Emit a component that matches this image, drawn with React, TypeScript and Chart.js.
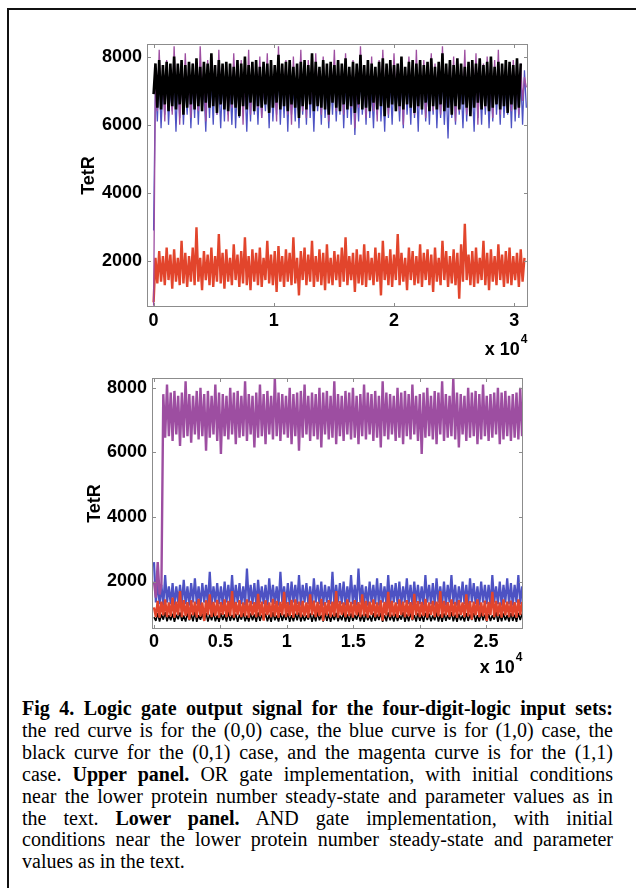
import React, { useEffect, useRef } from 'react';
import { Chart, registerables } from 'chart.js';

Chart.register(...registerables);

// ---------- data ----------
const UPPER_DT = 155; // time step between samples (upper panel)
const LOWER_DT = 140; // time step between samples (lower panel)

const UPPER_X_TICKS = [0, 10000, 20000, 30000];
const UPPER_X_LABELS = ['0', '1', '2', '3'];
const LOWER_X_TICKS = [0, 5000, 10000, 15000, 20000, 25000];
const LOWER_X_LABELS = ['0', '0.5', '1', '1.5', '2', '2.5'];
const Y_TICKS = [2000, 4000, 6000, 8000];
const Y_LABELS = ['2000', '4000', '6000', '8000'];
const Y_TITLE = 'TetR';
const X_MULT_BASE = 'x 10';
const X_MULT_EXP = '4';

const BLACK_UPPER = [
  6900, 7800, 6500, 7900, 6450, 7750, 6600, 7850, 6400, 7800,
  6550, 8000, 6450, 7800, 6600, 7900, 6300, 7750, 6500, 7850,
  6600, 7800, 6450, 7950, 6550, 7700, 6400, 7850, 6650, 7800,
  6500, 8100, 6550, 7750, 6350, 7900, 6600, 7800, 6450, 7850,
  6400, 7800, 6600, 7700, 6500, 7900, 6250, 7800, 6550, 8000,
  6450, 7750, 6650, 7850, 6400, 7900, 6550, 7700, 6500, 7850,
  6600, 7800, 6350, 7900, 6500, 7750, 6650, 8050, 6450, 7800,
  6550, 7850, 6400, 7900, 6600, 7700, 6500, 7800, 6200, 7850,
  6550, 7900, 6450, 7750, 6600, 8100, 6400, 7850, 6550, 7700,
  6500, 7900, 6450, 7800, 6300, 7850, 6650, 7750, 6500, 7900,
  6400, 7800, 6600, 7950, 6450, 7700, 6550, 7850, 6350, 7800,
  6600, 8050, 6450, 7750, 6500, 7900, 6400, 7800, 6650, 7700,
  6450, 7850, 6550, 7950, 6250, 7800, 6500, 7900, 6600, 7750,
  6400, 7800, 6550, 8000, 6450, 7700, 6600, 7850, 6500, 7900,
  6350, 7800, 6550, 7900, 6450, 7750, 6650, 7850, 6400, 7950,
  6550, 7700, 6450, 7850, 6600, 8100, 6400, 7800, 6500, 7900,
  6300, 7750, 6550, 7950, 6450, 7800, 6600, 7700, 6500, 7850,
  6250, 7900, 6500, 7800, 6650, 7950, 6450, 7750, 6550, 7850,
  6400, 8000, 6500, 7700, 6600, 7850, 6450, 7800, 6550, 7900,
  6350, 7850, 6600, 7750, 6450, 7950, 6500, 7800,
];

const MAGENTA_UPPER = [
  700, 7600, 6400, 8200, 6600, 7400, 6100, 7900, 6700, 7300,
  6300, 8300, 6800, 7700, 6000, 7500, 6500, 8100, 6700, 7400,
  6200, 7800, 6600, 7300, 6400, 8300, 6900, 7600, 6100, 7900,
  6500, 8000, 6700, 7400, 6300, 8200, 6600, 7500, 6800, 7800,
  6100, 7700, 6500, 8100, 6700, 7300, 6400, 7900, 6000, 7600,
  6600, 8200, 6300, 7500, 6800, 7800, 6500, 8000, 6200, 7400,
  6700, 8100, 6400, 7700, 6600, 7300, 6100, 8300, 6500, 7600,
  6800, 7900, 6300, 7500, 6000, 8000, 6600, 7400, 6700, 8200,
  6400, 7700, 6200, 7900, 6600, 7300, 6500, 8100, 6800, 7600,
  6300, 8000, 6700, 7500, 6100, 7800, 6900, 8200, 6400, 7400,
  6600, 7700, 6300, 8100, 6700, 7500, 6500, 7900, 5900, 7600,
  6500, 8300, 6800, 7400, 6200, 7800, 6600, 8000, 6400, 7300,
  6100, 7900, 6700, 8200, 6500, 7500, 6300, 7700, 6600, 8100,
  6800, 7400, 6400, 7800, 6000, 7600, 6600, 8000, 6700, 7300,
  6300, 8200, 6500, 7500, 6600, 7900, 6200, 7700, 6800, 8100,
  6400, 7800, 6700, 7400, 6300, 8300, 6500, 7600, 6900, 7900,
  6600, 8000, 6100, 7700, 6400, 7500, 6700, 8200, 6300, 7400,
  6500, 7900, 6600, 8100, 6000, 7600, 6800, 7800, 6500, 8000,
  6400, 7500, 6200, 7900, 6700, 8200, 6300, 7400, 6600, 7800,
  6500, 7700, 6400, 7900, 6600, 7500, 6300, 7800, 6700, 7400,
  7100,
];

const BLUE_UPPER = [
  2900, 7300, 6100, 7500, 5900, 7200, 6300, 7600, 6000, 7100,
  6400, 7400, 5800, 7300, 6200, 7500, 6000, 7200, 6300, 7600,
  5900, 7300, 6200, 7500, 6000, 7400, 6400, 7100, 5800, 7500,
  6200, 7300, 6000, 7600, 6300, 7200, 5900, 7400, 6100, 7500,
  6300, 7100, 6000, 7600, 5900, 7300, 6200, 7500, 6400, 7200,
  5800, 7400, 6100, 7600, 6300, 7300, 6000, 7500, 6200, 7100,
  6400, 7400, 5900, 7600, 6100, 7200, 6300, 7500, 6000, 7300,
  6200, 7600, 5800, 7400, 6300, 7100, 6100, 7500, 5900, 7300,
  6300, 7400, 6000, 7600, 6200, 7200, 5800, 7500, 6400, 7300,
  6000, 7600, 6200, 7100, 5900, 7400, 6300, 7500, 6100, 7200,
  6300, 7600, 5900, 7300, 6200, 7500, 6000, 7400, 5700, 7200,
  6100, 7500, 6300, 7300, 6000, 7600, 6200, 7100, 5900, 7400,
  6300, 7500, 6100, 7200, 5800, 7600, 6200, 7300, 6000, 7500,
  6400, 7100, 6100, 7400, 5900, 7600, 6300, 7200, 6000, 7500,
  6200, 7300, 5800, 7600, 6300, 7400, 6100, 7200, 6000, 7500,
  6300, 7600, 5900, 7300, 6200, 7400, 6000, 7100, 5600, 7500,
  6200, 7300, 6000, 7600, 6300, 7200, 5900, 7400, 6100, 7500,
  6300, 7100, 5800, 7600, 6200, 7300, 6000, 7500, 6300, 7400,
  5900, 7200, 6100, 7600, 6300, 7300, 6000, 7500, 6200, 7100,
  6300, 7400, 5900, 7600, 6100, 7300, 6200, 7500, 6000, 7600,
  6500,
];

const RED_UPPER = [
  800, 2100, 1350, 2300, 1400, 2150, 1300, 2400, 1450, 2200,
  1200, 2350, 1400, 2100, 1300, 2600, 1350, 2250, 1250, 2150,
  1400, 2400, 1300, 3000, 1400, 2100, 1150, 2300, 1450, 2200,
  1300, 2400, 1250, 2150, 1400, 2800, 1350, 2250, 1200, 2350,
  1400, 2100, 1300, 2500, 1450, 2200, 1250, 2300, 1350, 2700,
  1300, 2150, 1150, 2350, 1400, 2250, 1300, 2400, 1250, 2100,
  1450, 2600, 1350, 2200, 1300, 2300, 1100, 2450, 1400, 2150,
  1250, 2350, 1400, 2250, 1300, 2700, 1350, 2100, 1000, 2300,
  1450, 2400, 1300, 2200, 1400, 2600, 1250, 2150, 1400, 2350,
  1300, 2250, 1150, 2500, 1350, 2100, 1300, 2300, 1450, 2200,
  1250, 2400, 1400, 2700, 1300, 2150, 1450, 2250, 1100, 2350,
  1350, 2200, 1300, 2500, 1250, 2300, 1450, 2100, 1300, 2400,
  1400, 2250, 1000, 2600, 1450, 2150, 1300, 2350, 1250, 2200,
  1450, 2800, 1300, 2250, 1400, 2100, 1150, 2400, 1450, 2300,
  1300, 2150, 1350, 2500, 1250, 2250, 1450, 2350, 1300, 2200,
  1100, 2400, 1400, 2100, 1300, 2600, 1450, 2300, 1250, 2150,
  1350, 2350, 1300, 2250, 900, 2500, 1400, 3100, 1450, 2200,
  1300, 2300, 1250, 2400, 1350, 2100, 1450, 2600, 1300, 2250,
  1150, 2350, 1400, 2150, 1300, 2500, 1450, 2200, 1250, 2300,
  1350, 2400, 1300, 2150, 1450, 2250, 1250, 2350, 1400, 2100,
];

const MAGENTA_LOWER = [
  2000, 1500, 2600, 1600, 1900, 7800, 6450, 8100, 6500, 7850,
  6350, 7900, 6550, 7750, 6200, 7850, 6450, 8200, 6500, 7800,
  6300, 7750, 6550, 7900, 6400, 8000, 6500, 7800, 6050, 7900,
  6450, 7750, 6550, 8100, 6350, 7850, 5950, 7800, 6500, 7750,
  6400, 8000, 6550, 7850, 6250, 7900, 6450, 7750, 6500, 8200,
  6350, 7800, 6550, 7750, 6150, 7850, 6450, 8100, 6500, 7800,
  6250, 7900, 6550, 7750, 6400, 8300, 6500, 7850, 6350, 7800,
  6550, 7750, 6450, 8000, 6250, 7800, 6500, 7850, 6050, 7900,
  6450, 8100, 6550, 7750, 6350, 7850, 6500, 7800, 6400, 8000,
  6150, 7850, 6550, 7900, 6400, 7750, 6450, 8200, 6250, 7800,
  6500, 7750, 6350, 7900, 6550, 7850, 6400, 8000, 6450, 7750,
  6250, 7800, 6500, 8100, 6400, 7850, 6550, 7800, 6350, 7900,
  6450, 7750, 6150, 8200, 6500, 7850, 6400, 7800, 6550, 7750,
  6350, 8000, 6450, 7850, 6250, 7900, 6500, 7800, 6400, 8100,
  6550, 7750, 6350, 7800, 5950, 7850, 6450, 8000, 6500, 7750,
  6400, 7900, 6250, 7850, 6550, 8200, 6350, 7800, 6450, 7750,
  6500, 8300, 6400, 7850, 6150, 7800, 6550, 7750, 6350, 8000,
  6450, 7850, 6500, 7900, 6250, 7800, 6400, 8100, 6500, 7750,
  6350, 7800, 6450, 7850, 6550, 8000, 6250, 7850, 6400, 7900,
  6500, 7750, 6350, 7800, 6450, 7850, 6400, 8000, 6500,
];

const BLUE_LOWER = [
  2600, 1350, 2000, 1300, 1900, 1250, 2200, 1350, 1850, 1300,
  1950, 1250, 1850, 1350, 1900, 1300, 2050, 1300, 1850, 1250,
  1950, 1350, 2100, 1300, 1850, 1250, 1950, 1350, 1900, 1300,
  2300, 1250, 1850, 1350, 1950, 1300, 1850, 1250, 2000, 1350,
  1900, 1300, 2200, 1250, 1900, 1350, 1950, 1300, 1850, 1250,
  2400, 1350, 1900, 1300, 1950, 1250, 2050, 1350, 1850, 1300,
  1900, 1250, 2100, 1350, 1900, 1300, 1850, 1250, 2300, 1350,
  1850, 1300, 1950, 1250, 2000, 1350, 1900, 1300, 2200, 1250,
  1900, 1350, 1950, 1300, 1850, 1250, 2100, 1350, 1900, 1300,
  2000, 1250, 1900, 1350, 1850, 1300, 2300, 1250, 1900, 1350,
  1950, 1300, 2000, 1250, 1850, 1350, 2200, 1300, 1900, 1250,
  2400, 1350, 1900, 1300, 1850, 1250, 2000, 1350, 1900, 1300,
  2100, 1250, 1950, 1350, 1850, 1300, 2200, 1250, 1900, 1350,
  1950, 1300, 2000, 1250, 1850, 1350, 2100, 1300, 1900, 1250,
  2000, 1350, 1900, 1300, 1850, 1250, 2200, 1350, 1900, 1300,
  1950, 1250, 2100, 1350, 1850, 1300, 2000, 1250, 1900, 1350,
  2200, 1300, 1900, 1250, 1850, 1350, 2000, 1300, 1900, 1250,
  2100, 1350, 1950, 1300, 1850, 1250, 2000, 1350, 1900, 1300,
  1900, 1250, 2200, 1350, 1850, 1300, 2000, 1250, 1900, 1350,
  2100, 1300, 1950, 1250, 1900, 1350, 2200, 1300, 1850,
];

const RED_LOWER = [
  1200, 900, 1400, 880, 1380, 950, 1450, 900, 1350, 920,
  1500, 880, 1380, 960, 1700, 900, 1420, 930, 1360, 820,
  1420, 950, 1380, 890, 1460, 920, 1350, 780, 1420, 960,
  1600, 900, 1370, 930, 1430, 880, 1360, 970, 1450, 900,
  1400, 930, 1700, 880, 1370, 960, 1420, 900, 1350, 920,
  1450, 880, 1400, 950, 1360, 900, 1620, 930, 1380, 790,
  1420, 960, 1350, 900, 1460, 920, 1400, 880, 1370, 950,
  1680, 900, 1360, 930, 1430, 880, 1450, 970, 1380, 900,
  1400, 920, 1350, 880, 1600, 960, 1410, 900, 1370, 930,
  1460, 780, 1360, 950, 1420, 900, 1380, 920, 1700, 880,
  1390, 960, 1350, 900, 1450, 930, 1370, 880, 1420, 950,
  1360, 900, 1600, 930, 1400, 880, 1380, 960, 1450, 900,
  1350, 920, 1420, 790, 1370, 950, 1680, 900, 1400, 930,
  1350, 880, 1450, 960, 1380, 900, 1420, 920, 1360, 820,
  1620, 950, 1390, 900, 1370, 930, 1460, 880, 1350, 960,
  1400, 900, 1380, 920, 1700, 880, 1400, 950, 1360, 900,
  1450, 930, 1370, 880, 1420, 960, 1350, 900, 1600, 920,
  1390, 820, 1380, 950, 1450, 900, 1350, 930, 1410, 780,
  1370, 960, 1680, 900, 1400, 930, 1350, 880, 1450, 950,
  1380, 900, 1410, 920, 1360, 880, 1450, 960, 1370,
];

const BLACK_LOWER = [
  900, 780, 1020, 760, 980, 820, 1050, 770, 960, 800,
  1000, 750, 970, 830, 1040, 780, 950, 760, 1010, 800,
  980, 770, 1050, 750, 960, 820, 1000, 780, 1030, 760,
  970, 800, 1040, 770, 950, 750, 1020, 810, 980, 760,
  1050, 780, 960, 800, 1000, 750, 970, 820, 1030, 770,
  950, 760, 1010, 800, 980, 750, 1040, 780, 960, 820,
  1000, 770, 970, 750, 1050, 800, 950, 760, 1020, 780,
  980, 810, 1030, 750, 960, 770, 1000, 800, 1040, 760,
  970, 780, 950, 820, 1010, 750, 980, 770, 1050, 800,
  960, 760, 1020, 780, 1000, 750, 970, 810, 1030, 770,
  950, 800, 1040, 760, 980, 750, 1010, 780, 960, 820,
  1050, 770, 970, 750, 1000, 800, 950, 760, 1020, 780,
  980, 810, 1030, 750, 960, 770, 1040, 800, 970, 760,
  1000, 780, 950, 820, 1050, 750, 980, 770, 1010, 800,
  960, 760, 1020, 780, 970, 750, 1030, 810, 1000, 770,
  950, 800, 1040, 760, 980, 750, 1010, 780, 960, 820,
  1050, 770, 970, 750, 1000, 800, 950, 760, 1020, 780,
  980, 810, 1030, 750, 960, 770, 1040, 800, 970, 760,
  1000, 780, 950, 820, 1050, 750, 980, 770, 1010, 800,
  960, 760, 1020, 780, 970, 750, 1030, 810, 1000,
];

const CAPTION_LINES: { t: string; b?: boolean }[][] = [
  [{ t: 'Fig 4. Logic gate output signal for the four-digit-logic input sets:', b: true }],
  [{ t: 'the red curve is for the (0,0) case, the blue curve is for (1,0) case, the' }],
  [{ t: 'black curve for the (0,1) case, and the magenta curve is for the (1,1)' }],
  [{ t: 'case. ' }, { t: 'Upper panel.', b: true }, { t: ' OR gate implementation, with initial conditions' }],
  [{ t: 'near the lower protein number steady-state and parameter values as in' }],
  [{ t: 'the text. ' }, { t: 'Lower panel.', b: true }, { t: ' AND gate implementation, with initial' }],
  [{ t: 'conditions near the lower protein number steady-state and parameter' }],
  [{ t: 'values as in the text.' }],
];

// ---------- styles ----------
const RED = '#e2452c';
const BLUE = '#4d52c3';
const MAGENTA = '#9d4ea1';
const BLACK = '#000000';
const FONT = '"Liberation Sans", Arial, Helvetica, sans-serif';
const FSIZE = 18;

type Series = { name: string; values: number[]; color: string; width: number };
type Panel = {
  dt: number;
  series: Series[];
  xMin: number; xMax: number; yMin: number; yMax: number;
  xTicks: number[]; xLabels: string[];
  padTop: number; padRight: number; yAxisWidth: number; xAxisHeight: number;
  xTickPad: number; titlePad: number; multBaseline: number; height: number;
};

const boxPlugin = {
  id: 'matlabBox',
  afterDraw(chart: any, _args: any, opts: any) {
    const { ctx, chartArea: a, scales } = chart;
    ctx.save();
    ctx.strokeStyle = '#8c8c8c';
    ctx.lineWidth = 1;
    ctx.strokeRect(Math.round(a.left) + 0.5, Math.round(a.top) + 0.5, Math.round(a.right - a.left) - 1, Math.round(a.bottom - a.top) - 1);
    const L = 4;
    ctx.beginPath();
    scales.x.ticks.forEach((t: any) => {
      const px = Math.round(scales.x.getPixelForValue(t.value)) + 0.5;
      ctx.moveTo(px, a.bottom); ctx.lineTo(px, a.bottom - L);
      ctx.moveTo(px, a.top); ctx.lineTo(px, a.top + L);
    });
    scales.y.ticks.forEach((t: any) => {
      const py = Math.round(scales.y.getPixelForValue(t.value)) + 0.5;
      ctx.moveTo(a.left, py); ctx.lineTo(a.left + L, py);
      ctx.moveTo(a.right, py); ctx.lineTo(a.right - L, py);
    });
    ctx.stroke();
    // x-axis multiplier "x 10^4"
    ctx.fillStyle = '#000';
    ctx.textBaseline = 'alphabetic';
    ctx.textAlign = 'right';
    ctx.font = `bold 12px ${FONT}`;
    const expW = ctx.measureText(X_MULT_EXP).width;
    ctx.fillText(X_MULT_EXP, a.right - 0.5, a.bottom + opts.multBaseline - 12);
    ctx.font = `bold ${FSIZE}px ${FONT}`;
    ctx.fillText(X_MULT_BASE, a.right - expW - 1.5, a.bottom + opts.multBaseline);
    ctx.restore();
  },
};

function makeConfig(p: Panel): any {
  return {
    type: 'line',
    data: {
      datasets: p.series.map((s) => ({
        label: s.name,
        data: s.values.map((v, i) => ({ x: i * p.dt, y: v })),
        borderColor: s.color,
        borderWidth: s.width,
        borderJoinStyle: 'bevel',
        pointRadius: 0,
        tension: 0,
        fill: false,
      })),
    },
    options: {
      animation: false,
      responsive: false,
      maintainAspectRatio: false,
      parsing: false,
      normalized: true,
      events: [],
      layout: { padding: { left: 0, top: p.padTop, right: p.padRight, bottom: 0 } },
      plugins: {
        legend: { display: false },
        tooltip: { enabled: false },
        matlabBox: { multBaseline: p.multBaseline },
      },
      scales: {
        x: {
          type: 'linear',
          min: p.xMin,
          max: p.xMax,
          grid: { display: false, drawTicks: false, tickLength: 0 },
          border: { display: false },
          afterBuildTicks: (s: any) => { s.ticks = p.xTicks.map((v) => ({ value: v })); },
          afterFit: (s: any) => { s.height = p.xAxisHeight; },
          ticks: {
            autoSkip: false,
            maxRotation: 0,
            padding: p.xTickPad,
            color: '#000',
            font: { family: FONT, size: FSIZE, weight: 'bold' },
            callback: (_v: any, i: number) => p.xLabels[i],
          },
        },
        y: {
          type: 'linear',
          min: p.yMin,
          max: p.yMax,
          grid: { display: false, drawTicks: false, tickLength: 0 },
          border: { display: false },
          afterBuildTicks: (s: any) => { s.ticks = Y_TICKS.map((v) => ({ value: v })); },
          afterFit: (s: any) => { s.width = p.yAxisWidth; },
          ticks: {
            autoSkip: false,
            padding: 5,
            color: '#000',
            font: { family: FONT, size: FSIZE, weight: 'bold' },
            callback: (_v: any, i: number) => Y_LABELS[i],
          },
          title: {
            display: true,
            text: Y_TITLE,
            color: '#000',
            font: { family: FONT, size: FSIZE, weight: 'bold' },
            padding: { top: p.titlePad, bottom: 0 },
          },
        },
      },
    },
    plugins: [boxPlugin],
  };
}

const UPPER: Panel = {
  dt: UPPER_DT,
  series: [
    { name: '(0,1)', values: BLACK_UPPER, color: BLACK, width: 2.6 },
    { name: '(1,1)', values: MAGENTA_UPPER, color: MAGENTA, width: 1.3 },
    { name: '(1,0)', values: BLUE_UPPER, color: BLUE, width: 1.3 },
    { name: '(0,0)', values: RED_UPPER, color: RED, width: 2.4 },
  ],
  xMin: -550, xMax: 31140, yMin: 660, yMax: 8370,
  xTicks: UPPER_X_TICKS, xLabels: UPPER_X_LABELS,
  padTop: 44, padRight: 108, yAxisWidth: 147, xAxisHeight: 55,
  xTickPad: 3, titlePad: 78, multBaseline: 48, height: 362,
};

const LOWER: Panel = {
  dt: LOWER_DT,
  series: [
    { name: '(1,1)', values: MAGENTA_LOWER, color: MAGENTA, width: 2.4 },
    { name: '(0,0)', values: RED_LOWER, color: RED, width: 2.4 },
    { name: '(1,0)', values: BLUE_LOWER, color: BLUE, width: 2.2 },
    { name: '(0,1)', values: BLACK_LOWER, color: BLACK, width: 1.6 },
  ],
  xMin: -150, xMax: 27790, yMin: 530, yMax: 8300,
  xTicks: LOWER_X_TICKS, xLabels: LOWER_X_LABELS,
  padTop: 16, padRight: 113, yAxisWidth: 152, xAxisHeight: 51,
  xTickPad: 2, titlePad: 84.5, multBaseline: 44, height: 318,
};

function PanelChart({ panel, top }: { panel: Panel; top: number }) {
  const ref = useRef<HTMLCanvasElement | null>(null);
  useEffect(() => {
    if (!ref.current) return;
    const chart = new Chart(ref.current, makeConfig(panel));
    return () => chart.destroy();
  }, [panel]);
  return (
    <div style={{ position: 'absolute', left: 0, top, width: 636, height: panel.height }}>
      <canvas ref={ref} width={636} height={panel.height} style={{ width: 636, height: panel.height, display: 'block' }} />
    </div>
  );
}

export default function App() {
  return (
    <div style={{ position: 'absolute', left: 0, top: 0, width: 636, height: 888, background: '#fff', overflow: 'hidden' }}>
      <div style={{ position: 'absolute', left: 7, top: 8, width: 629, height: 880, borderTop: '2px solid #111', borderLeft: '2px solid #111', boxSizing: 'border-box' }} />
      <PanelChart panel={UPPER} top={0} />
      <PanelChart panel={LOWER} top={362} />
      <div style={{ position: 'absolute', left: 22, top: 698, width: 591, fontFamily: '"Liberation Serif", "Times New Roman", serif', fontSize: 20, lineHeight: '21.9px', color: '#000' }}>
        {CAPTION_LINES.map((line, i) => (
          <div key={i} style={{ textAlign: 'justify', textAlignLast: i === CAPTION_LINES.length - 1 ? 'left' : 'justify', whiteSpace: 'normal' }}>
            {line.map((seg, j) => (seg.b ? <b key={j}>{seg.t}</b> : <span key={j}>{seg.t}</span>))}
          </div>
        ))}
      </div>
    </div>
  );
}
